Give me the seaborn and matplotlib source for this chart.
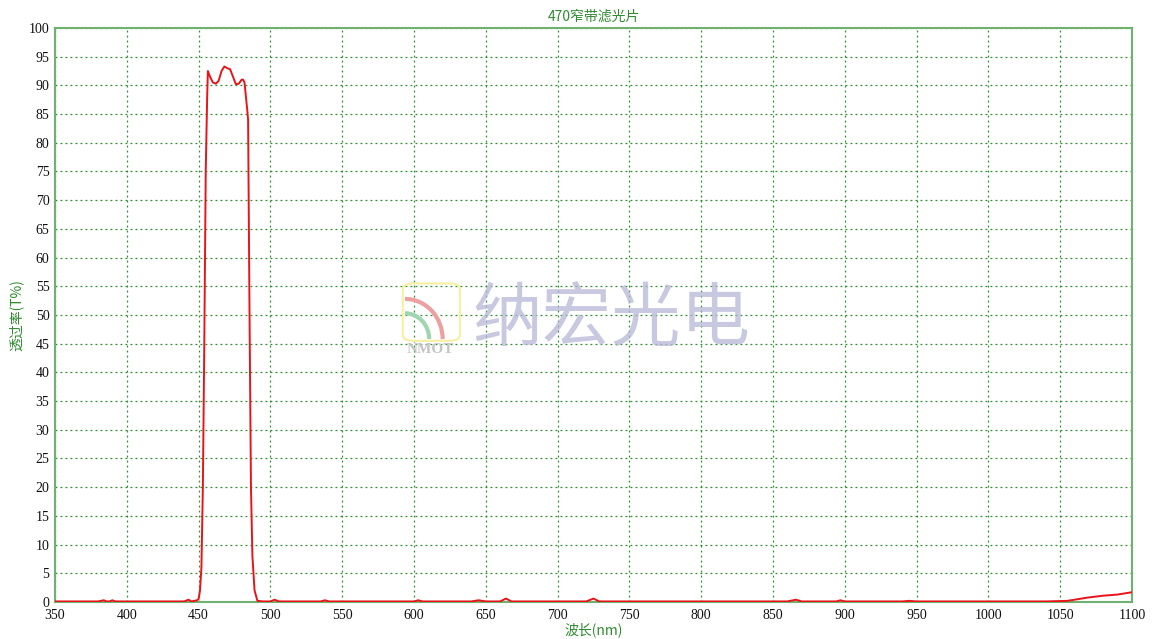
import matplotlib
matplotlib.use("Agg")
import matplotlib.pyplot as plt
import pandas as pd
import seaborn as sns
from matplotlib.patches import Arc, FancyBboxPatch

# ---------------------------------------------------------------------------
# data (one row per stretch of the curve)
# ---------------------------------------------------------------------------
wavelength = [
    350, 380, 384, 386, 388, 390, 392, 395,
    430, 440, 443, 445, 447, 449,
    450, 451, 452, 453, 454, 455, 456, 456.5,
    458, 460, 462, 464, 466, 468, 470, 472, 474, 476, 478, 480, 481, 482, 483, 484, 484.5,
    485.5, 486.5, 487.5, 489, 491, 495,
    500, 503, 506, 510, 535, 538, 541, 545,
    600, 603, 606, 640, 645, 650, 660, 664, 668, 672,
    720, 725, 729, 733, 800, 820, 860, 866, 870,
    894, 897, 900, 940, 945, 950, 1000, 1040,
    1055, 1060, 1070, 1080, 1090, 1100,
]
transmit = [
    0.1, 0.1, 0.3, 0.1, 0.1, 0.3, 0.1, 0.1,
    0.1, 0.1, 0.4, 0.1, 0.2, 0.3,
    0.5, 2.0, 6.0, 20.0, 45.0, 75.0, 88.0, 92.5,
    91.5, 90.5, 90.3, 90.8, 92.5, 93.3, 93.0, 92.8, 91.5, 90.2, 90.3, 91.0, 91.0, 90.5, 88.0, 85.5, 84.0,
    50.0, 20.0, 8.0, 2.0, 0.2, 0.1,
    0.1, 0.4, 0.1, 0.1, 0.1, 0.3, 0.1, 0.1,
    0.1, 0.3, 0.1, 0.1, 0.3, 0.1, 0.1, 0.6, 0.1, 0.1,
    0.1, 0.6, 0.1, 0.1, 0.1, 0.1, 0.1, 0.4, 0.1,
    0.1, 0.3, 0.1, 0.1, 0.2, 0.1, 0.1, 0.1,
    0.2, 0.4, 0.8, 1.1, 1.3, 1.7,
]

x_ticks = list(range(350, 1101, 50))
y_ticks = list(range(0, 101, 5))

title = "470窄带滤光片"
x_label = "波长(nm)"
y_label = "透过率(T%)"
watermark = "纳宏光电"

GREEN = "#2e8b2e"
SPINE = "#6fb26f"

sns.set_theme(style="white")
plt.rcParams["font.family"] = ["Noto Sans CJK SC", "DejaVu Sans"]

df = pd.DataFrame({"wl": wavelength, "t": transmit})

fig = plt.figure(figsize=(11.52, 6.39), dpi=100)
ax = fig.add_axes([0.0477, 0.0579, 0.9349, 0.8983])

sns.lineplot(data=df, x="wl", y="t", color="#e8141a", linewidth=1.4, ax=ax, zorder=5)

ax.set_xlim(350, 1100)
ax.set_ylim(0, 100)
ax.set_xticks(x_ticks)
ax.set_yticks(y_ticks)
ax.set_xticklabels([str(v) for v in x_ticks], family="Liberation Serif", fontsize=10)
ax.set_yticklabels([str(v) for v in y_ticks], family="Liberation Serif", fontsize=10)
ax.tick_params(axis="x", length=0, pad=5, colors="#111111")
ax.tick_params(axis="y", length=0, pad=4, colors="#111111")
ax.grid(True, color=GREEN, linestyle=(0, (1.5, 2.5)), linewidth=0.9)
for sp in ax.spines.values():
    sp.set_color(SPINE)
    sp.set_linewidth(1.5)

ax.set_title(title, color=GREEN, fontsize=10, pad=5)
ax.set_xlabel(x_label, color=GREEN, fontsize=10, labelpad=0,
              family=["Noto Sans CJK SC", "Liberation Serif"])
ax.set_ylabel(y_label, color=GREEN, fontsize=10, labelpad=4,
              family=["Noto Sans CJK SC", "Liberation Serif"])

# watermark
ax.text(0.517, 0.49, watermark, transform=ax.transAxes, ha="center", va="center",
        fontsize=50, color="#b8b6d8", alpha=0.75, zorder=1)
logo = FancyBboxPatch((0.323, 0.455), 0.053, 0.1, transform=ax.transAxes,
                      boxstyle="round,pad=0,rounding_size=0.01",
                      fill=False, edgecolor="#f7f0a0", linewidth=1.5, zorder=1)
ax.add_patch(logo)
ax.add_patch(Arc((0.325, 0.458), 0.07, 0.14, theta1=0, theta2=90,
                 transform=ax.transAxes, color="#eea0a0", linewidth=3, zorder=1))
ax.add_patch(Arc((0.325, 0.458), 0.045, 0.09, theta1=0, theta2=90,
                 transform=ax.transAxes, color="#9fd6b0", linewidth=3, zorder=1))
ax.text(0.349, 0.44, "NMOT", transform=ax.transAxes, ha="center", va="center",
        fontsize=11, color="#c4c4c4", family="Liberation Serif", weight="bold", zorder=1)

fig.savefig("out.png", dpi=100)
